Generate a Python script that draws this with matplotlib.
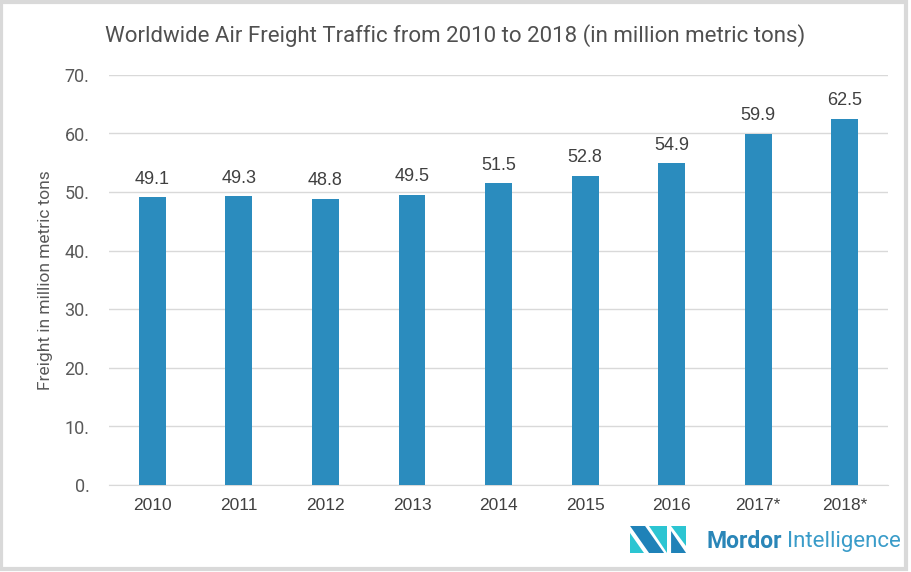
import numpy as np
import matplotlib.pyplot as plt
from matplotlib.patches import Polygon, Rectangle

years = ['2010', '2011', '2012', '2013', '2014', '2015', '2016', '2017*', '2018*']
freight = [49.1, 49.3, 48.8, 49.5, 51.5, 52.8, 54.9, 59.9, 62.5]
yticks = [0, 10, 20, 30, 40, 50, 60, 70]

plt.rcParams['font.family'] = ['Roboto', 'DejaVu Sans']

W, H = 911, 572
fig = plt.figure(figsize=(W / 100 + 0.001, H / 100 + 0.001), dpi=100)
ax = fig.add_axes([109 / W, 1 - 485 / H, 779 / W, 410 / H])

x = np.arange(len(years))
bars = ax.bar(x, freight, width=0.31, color='#2b8cbe', zorder=3)
for xi, v in zip(x, freight):
    ax.annotate(f'{v:.1f}', (xi, v), xytext=(0, 7), textcoords='offset points',
                ha='center', va='bottom', fontsize=13, color='#404040',
                family=['Liberation Sans', 'DejaVu Sans'])

ax.set_xlim(-0.5, len(years) - 0.5)
ax.set_ylim(0, 70)
ax.set_yticks(yticks)
ax.set_yticklabels([f'{t}.' for t in yticks], family=['Roboto', 'DejaVu Sans'])
ax.set_xticks(x)
ax.set_xticklabels(years, family=['Liberation Sans', 'DejaVu Sans'])
ax.tick_params(axis='y', length=0, pad=14, labelsize=13, labelcolor='#595959')
ax.tick_params(axis='x', length=0, pad=9, labelsize=12.5, labelcolor='#404040')
ax.grid(axis='y', color='#d9d9d9', linewidth=1, zorder=0)
for s in ['top', 'right', 'left']:
    ax.spines[s].set_visible(False)
ax.spines['bottom'].set_color('#d9d9d9')
ax.set_ylabel('Freight in million metric tons', fontsize=12.5, color='#595959', labelpad=8)

fig.text(0.5, 1 - 36 / H, 'Worldwide Air Freight Traffic from 2010 to 2018 (in million metric tons)',
         ha='center', va='center', fontsize=16, color='#505050')

# border
fig.patches.append(Rectangle((1 / W, 3 / H), (W - 6) / W, (H - 5) / H, transform=fig.transFigure,
                             fill=False, edgecolor='#d9d9d9', linewidth=3))

# logo
def px(pts):
    return [(a / W, 1 - b / H) for a, b in pts]

dark = '#1f82b8'
cyan = '#2cc5d2'
shapes = [
    ([(630, 526), (645, 526), (664, 553), (649, 553)], dark),
    ([(630, 533), (630, 553), (644, 553)], cyan),
    ([(649, 526), (667, 526), (667, 553)], cyan),
    ([(671, 526), (686, 526), (686, 546)], cyan),
    ([(671, 531), (686, 553), (671, 553)], dark),
]
for pts, c in shapes:
    fig.patches.append(Polygon(px(pts), closed=True, transform=fig.transFigure,
                               facecolor=c, edgecolor='none'))
fig.text(706 / W, 1 - 541 / H, 'Mordor', fontsize=16.5, fontweight='bold', color='#2a86b8',
         ha='left', va='center')
fig.text(787 / W, 1 - 541 / H, 'Intelligence', fontsize=16, color='#3a9cc9',
         ha='left', va='center')

fig.savefig('out.png', dpi=100)
